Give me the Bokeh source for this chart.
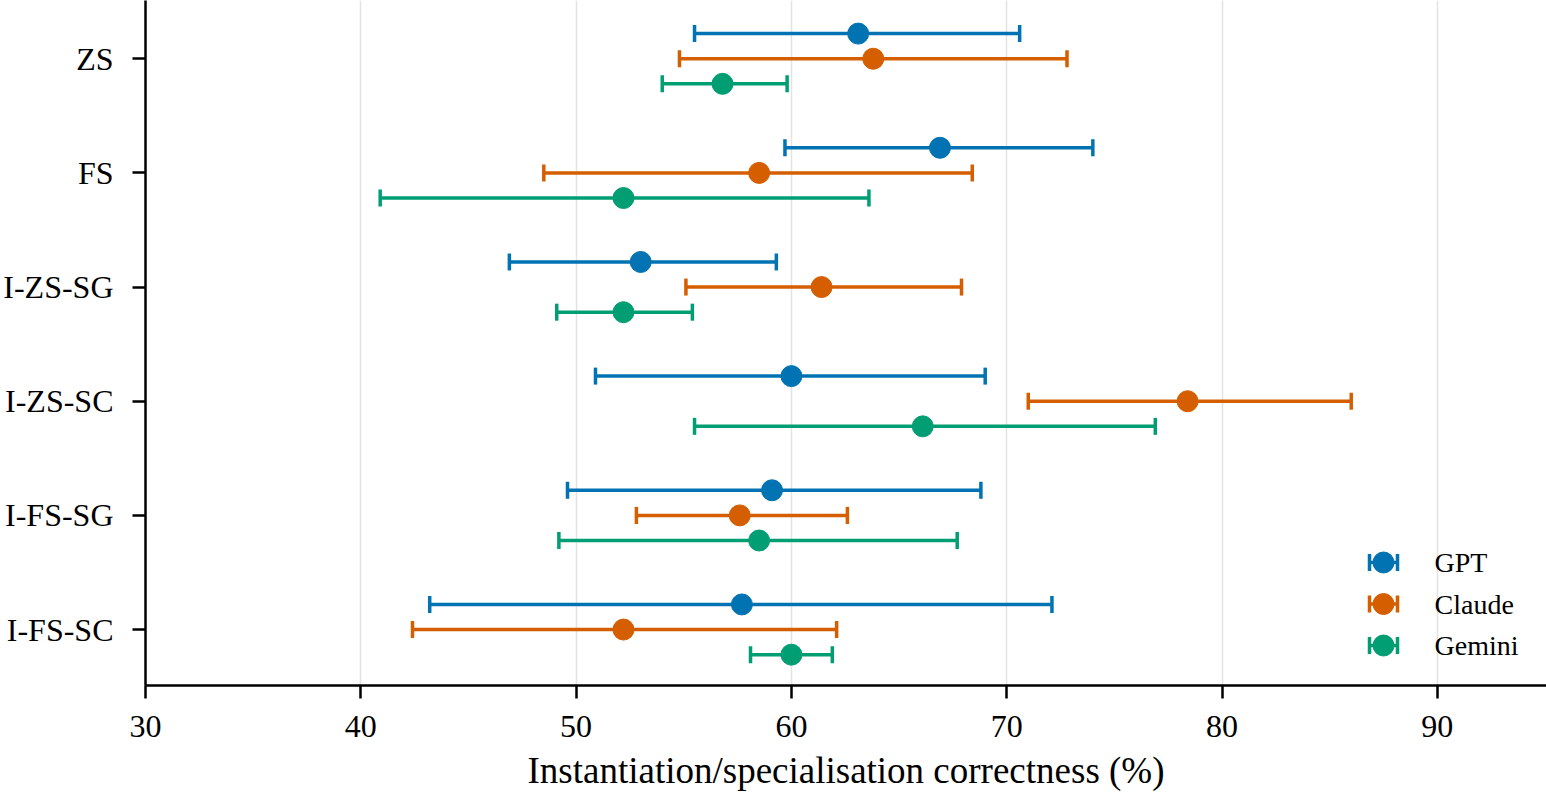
import math

from bokeh.core.properties import value
from bokeh.embed import file_html
from bokeh.models import ColumnDataSource, Range1d, FixedTicker
from bokeh.plotting import figure
from bokeh.resources import INLINE
from bokeh.transform import dodge

# Prompting strategies (top to bottom)
categories = ["ZS", "FS", "I-ZS-SG", "I-ZS-SC", "I-FS-SG", "I-FS-SC"]

# Mean correctness (%) with lower / upper interval bounds per model
gpt_mean = [63.1, 66.9, 53.0, 60.0, 59.1, 57.7]
gpt_lo = [55.5, 59.7, 46.9, 50.9, 49.6, 43.2]
gpt_hi = [70.6, 74.0, 59.3, 69.0, 68.8, 72.1]

claude_mean = [63.8, 58.5, 61.4, 78.4, 57.6, 52.2]
claude_lo = [54.8, 48.5, 55.1, 71.0, 52.8, 42.4]
claude_hi = [72.8, 68.4, 67.9, 86.0, 62.6, 62.1]

gemini_mean = [56.8, 52.2, 52.2, 66.1, 58.5, 60.0]
gemini_lo = [54.0, 40.9, 49.1, 55.5, 49.2, 58.1]
gemini_hi = [59.8, 63.6, 55.4, 76.9, 67.7, 61.9]

models = ["GPT", "Claude", "Gemini"]
colors = ["#0173b2", "#d55e00", "#029e73"]
x_ticks = [30, 40, 50, 60, 70, 80, 90]

FONT = "Liberation Serif"
W, H = 1546, 795
LEFT, BOTTOM = 145, 110
LW = 3.5          # error bar line width
CAP = 17          # cap length (px)
DOT = 21          # marker diameter (px)

n = len(categories)
# first category at the top
cat_pos = [n - 1 - i for i in range(n)]

p = figure(
    width=W, height=H,
    x_range=Range1d(30, 95.07),
    y_range=Range1d(-0.49, n - 0.49),
    output_backend="svg", toolbar_location=None,
    min_border_left=LEFT, min_border_right=0,
    min_border_top=0, min_border_bottom=BOTTOM,
)
p.outline_line_color = None
p.background_fill_color = "white"
p.border_fill_color = "white"

# Grid: vertical only
p.ygrid.grid_line_color = None
p.xgrid.grid_line_color = "#e3e3e3"
p.xgrid.grid_line_width = 1.5
p.xaxis.ticker = FixedTicker(ticks=x_ticks)
p.yaxis.ticker = FixedTicker(ticks=cat_pos)
p.yaxis.major_label_overrides = {pos: cat for pos, cat in zip(cat_pos, categories)}

for ax in (p.xaxis[0], p.yaxis[0]):
    ax.axis_line_width = 2.5
    ax.axis_line_color = "black"
    ax.major_tick_line_width = 2.5
    ax.major_tick_line_color = "black"
    ax.major_tick_in = 0
    ax.major_tick_out = 13
    ax.minor_tick_line_color = None
    ax.major_label_text_font = FONT
    ax.major_label_text_font_size = "32px"
    ax.major_label_text_color = "black"

p.xaxis.major_label_standoff = 17
p.yaxis.major_label_standoff = 19
p.xaxis.axis_label = "Instantiation/specialisation correctness (%)"
p.xaxis.axis_label_text_font = FONT
p.xaxis.axis_label_text_font_style = "normal"
p.xaxis.axis_label_text_font_size = "37px"
p.xaxis.axis_label_text_color = "black"
p.xaxis.axis_label_standoff = 10

series = [
    (gpt_mean, gpt_lo, gpt_hi),
    (claude_mean, claude_lo, claude_hi),
    (gemini_mean, gemini_lo, gemini_hi),
]
offsets = [0.22, 0.0, -0.22]

for (mean, lo, hi), off, color in zip(series, offsets, colors):
    src = ColumnDataSource(dict(pos=cat_pos, mean=mean, lo=lo, hi=hi))
    y = dodge("pos", off)
    p.segment(x0="lo", y0=y, x1="hi", y1=y, source=src,
              line_color=color, line_width=LW)
    for end in ("lo", "hi"):
        p.scatter(x=end, y=y, source=src, marker="dash", angle=math.pi / 2,
                  size=CAP, line_color=color, line_width=LW)
    p.scatter(x="mean", y=y, source=src, marker="circle", size=DOT,
              fill_color=color, line_color=color)

# Legend keys drawn in frame pixel coordinates (y downward)
p.extra_x_ranges = {"key_x": Range1d(0, W - LEFT)}
p.extra_y_ranges = {"key_y": Range1d(H - BOTTOM, 0)}
row0, row_gap = 562, 41.5
key_cx, key_half, text_x = 1238, 14, 1289
key_rows = [row0 + i * row_gap for i in range(len(models))]
key_src = ColumnDataSource(dict(
    y=key_rows, cx=[key_cx] * 3, x0=[key_cx - key_half] * 3,
    x1=[key_cx + key_half] * 3, tx=[text_x] * 3, name=models, color=colors,
))
kw = dict(source=key_src, x_range_name="key_x", y_range_name="key_y")
p.segment(x0="x0", y0="y", x1="x1", y1="y", line_color="color", line_width=LW, **kw)
p.scatter(x="x0", y="y", marker="dash", angle=math.pi / 2, size=CAP,
          line_color="color", line_width=LW, **kw)
p.scatter(x="x1", y="y", marker="dash", angle=math.pi / 2, size=CAP,
          line_color="color", line_width=LW, **kw)
p.scatter(x="cx", y="y", marker="circle", size=DOT, fill_color="color",
          line_color="color", **kw)
p.text(x="tx", y="y", text="name", text_font=value(FONT), text_font_size="28px",
       text_baseline="middle", text_align="left", text_color="black", **kw)

open("out.html", "w").write(file_html(p, INLINE))
